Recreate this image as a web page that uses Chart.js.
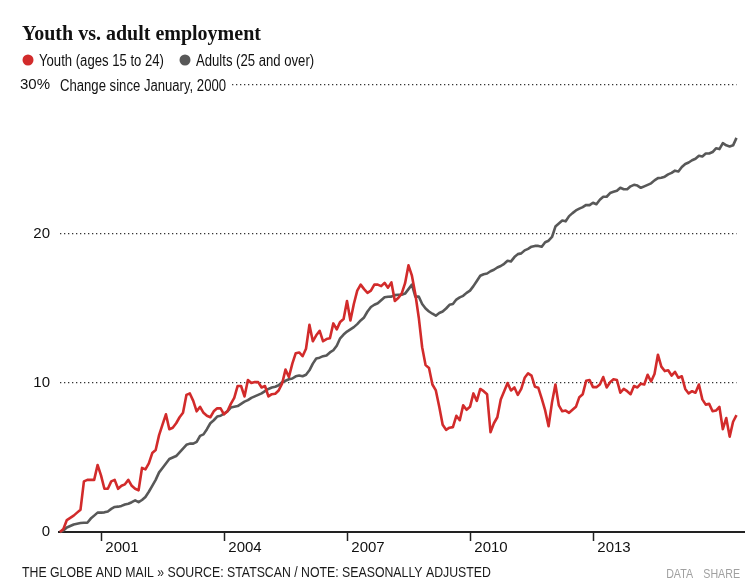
<!DOCTYPE html>
<html>
<head>
<meta charset="utf-8">
<script src="https://cdn.jsdelivr.net/npm/chart.js@4/dist/chart.umd.min.js"></script>
<style>
html,body{margin:0;padding:0;background:#fff;}
#wrap{width:750px;height:586px;position:relative;}
</style>
</head>
<body>
<div id="wrap"><canvas id="c" width="750" height="586"></canvas></div>
<script>
// ---- Data (percent change in employment since January 2000, monthly, Jan 2000 - Jul 2016) ----
const startYear = 2000;
const youth = [
  0, 0.2, 0.8, 0.95, 1.1, 1.3, 1.5, 3.4, 3.5, 3.5,
  3.5, 4.5, 3.8, 2.9, 2.9, 3.4, 3.5, 2.9, 3.1, 3.2,
  3.5, 3.1, 2.9, 2.8, 4.3, 4.2, 4.6, 5.3, 5.5, 6.5,
  7.2, 7.9, 6.9, 7.0, 7.3, 7.7, 8.0, 9.2, 9.3, 8.8,
  8.1, 8.4, 8.0, 7.8, 7.7, 8.1, 8.3, 8.3, 7.9, 8.1,
  8.6, 9.0, 9.8, 9.8, 9.1, 10.2, 10.0, 10.06, 10.06, 9.7,
  9.8, 9.1, 9.25, 9.28, 9.5, 9.95, 10.9, 10.4, 11.3, 12.0,
  12.05, 11.8, 12.3, 13.9, 12.8, 13.2, 13.5, 12.8, 12.95, 13.0,
  14.0, 13.6, 14.1, 14.3, 15.5, 14.2, 15.3, 16.2, 16.6, 16.3,
  16.05, 16.2, 16.6, 16.6, 16.5, 16.72, 16.4, 16.75, 15.5, 15.7,
  16.0, 16.7, 17.9, 17.2, 15.97, 14.4, 12.4, 11.2, 11.0, 9.9,
  9.5, 8.4, 7.2, 6.86, 7.0, 7.04, 7.8, 7.5, 8.5, 8.2,
  8.4, 9.3, 8.8, 9.6, 9.45, 9.25, 6.7, 7.3, 7.7, 8.9,
  9.45, 10.0, 9.5, 9.7, 9.2, 9.6, 10.35, 10.65, 10.5, 9.75,
  9.68, 8.95, 8.16, 7.1, 8.7, 9.9, 8.5, 8.1, 8.15, 8.0,
  8.2, 8.4, 9.05, 9.25, 10.15, 10.2, 9.72, 9.72, 9.9, 10.4,
  9.7, 10.05, 10.25, 10.2, 9.35, 9.6, 9.45, 9.25, 9.8, 9.7,
  9.95, 9.9, 10.55, 10.1, 10.6, 11.9, 11.1, 10.8, 10.85, 10.5,
  10.75, 10.35, 10.45, 9.6, 9.3, 9.45, 9.35, 9.9, 8.9, 8.55,
  8.6, 8.1, 8.15, 8.4, 6.9, 7.65, 6.4, 7.4, 7.85
];
const adults = [
  0, 0.1, 0.3, 0.4, 0.5, 0.55, 0.6, 0.62, 0.62, 0.9,
  1.1, 1.3, 1.3, 1.32, 1.38, 1.55, 1.68, 1.7, 1.75, 1.85,
  1.9, 2.0, 2.12, 2.0, 2.15, 2.35, 2.7, 3.1, 3.5, 4.0,
  4.3, 4.6, 4.9, 5.0, 5.1, 5.35, 5.6, 5.85, 5.93, 5.93,
  6.05, 6.45, 6.55, 6.9, 7.3, 7.5, 7.75, 7.8, 7.95, 8.1,
  8.35, 8.4, 8.45, 8.6, 8.75, 8.85, 9.0, 9.1, 9.2, 9.3,
  9.45, 9.6, 9.7, 9.75, 9.85, 10.05, 10.15, 10.25, 10.3, 10.45,
  10.5, 10.45, 10.55, 10.85, 11.3, 11.65, 11.7, 11.8, 11.85, 12.05,
  12.2, 12.5, 13.0, 13.25, 13.45, 13.6, 13.75, 13.95, 14.2, 14.4,
  14.8, 15.1, 15.25, 15.35, 15.55, 15.75, 15.79, 15.8, 15.9, 15.92,
  15.92, 16.0, 16.3, 16.6, 15.8, 15.8, 15.3, 15.0, 14.8, 14.65,
  14.52, 14.7, 14.8, 15.0, 15.25, 15.3, 15.6, 15.75, 15.85, 16.05,
  16.2, 16.5, 16.85, 17.2, 17.3, 17.35, 17.5, 17.6, 17.75, 17.85,
  18.0, 18.2, 18.16, 18.45, 18.65, 18.7, 18.9, 19.0, 19.15, 19.2,
  19.2, 19.15, 19.45, 19.55, 19.8, 20.5, 20.7, 20.9, 20.85, 21.2,
  21.4, 21.58, 21.7, 21.8, 21.95, 21.94, 22.1, 22.0, 22.3, 22.5,
  22.5, 22.75, 22.83, 22.9, 23.1, 23.0, 23.0, 23.2, 23.3, 23.25,
  23.1, 23.2, 23.3, 23.4, 23.6, 23.75, 23.78, 23.85, 24.0, 24.1,
  24.25, 24.2, 24.5, 24.7, 24.8, 24.95, 25.05, 25.25, 25.2, 25.4,
  25.4, 25.5, 25.75, 25.7, 26.1, 25.95, 25.88, 25.95, 26.45
];
const monthLabels = youth.map((_, i) =>
  (startYear + Math.floor(i / 12)) + '-' + String(i % 12 + 1).padStart(2, '0'));
const tickYears = [2001, 2004, 2007, 2010, 2013];
const yTickValues = [0, 10, 20, 30];
const seriesNames = ['Youth (ages 15 to 24)', 'Adults (25 and over)'];

const titleText = 'Youth vs. adult employment';
const headerText = 'Change since January, 2000';
const footerText = 'THE GLOBE AND MAIL \u00BB SOURCE: STATSCAN / NOTE: SEASONALLY ADJUSTED';

const RED = '#d22b2b';
const GRAY = '#585858';
const SANS = "'Liberation Sans', Arial, sans-serif";
const SQUEEZE = 0.82;

function narrowText(ctx, text, x, y, size, color, align) {
  ctx.save();
  ctx.translate(x, y);
  ctx.scale(SQUEEZE, 1);
  ctx.font = size + 'px ' + SANS;
  ctx.fillStyle = color;
  ctx.textAlign = align || 'left';
  ctx.fillText(text, 0, 0);
  const w = ctx.measureText(text).width * SQUEEZE;
  ctx.restore();
  return w;
}

const deco = {
  id: 'deco',
  beforeDatasetsDraw(chart) {
    const { ctx, chartArea } = chart;
    const y30 = chart.scales.y.getPixelForValue(30);
    const y0 = chart.scales.y.getPixelForValue(0);
    ctx.save();
    ctx.font = '16px ' + SANS;
    const w = ctx.measureText(headerText).width * SQUEEZE;
    ctx.fillStyle = '#fff';
    ctx.fillRect(chartArea.left - 4, y30 - 5, w + 10, 10);
    ctx.textBaseline = 'alphabetic';
    narrowText(ctx, headerText, chartArea.left, y30 + 6, 16, '#111', 'left');
    // x axis line
    ctx.strokeStyle = '#222';
    ctx.lineWidth = 2;
    ctx.beginPath();
    ctx.moveTo(chartArea.left - 2, y0);
    ctx.lineTo(745, y0);
    ctx.stroke();
    ctx.restore();
  },
  afterDraw(chart) {
    const { ctx } = chart;
    ctx.save();
    ctx.textAlign = 'left';
    ctx.textBaseline = 'alphabetic';
    // title
    ctx.fillStyle = '#111';
    ctx.font = 'bold 20px "Liberation Serif", "DejaVu Serif", serif';
    ctx.fillText(titleText, 22, 40);
    // legend
    const items = [
      { x: 28, color: RED, label: seriesNames[0] },
      { x: 185, color: GRAY, label: seriesNames[1] }
    ];
    items.forEach(it => {
      ctx.fillStyle = it.color;
      ctx.beginPath();
      ctx.arc(it.x, 60, 5.5, 0, Math.PI * 2);
      ctx.fill();
      narrowText(ctx, it.label, it.x + 11, 65.5, 16, '#111', 'left');
    });
    // footer
    narrowText(ctx, footerText, 22, 577, 15, '#1a1a1a', 'left');
    narrowText(ctx, 'SHARE', 740, 578, 13, '#a0a0a0', 'right');
    narrowText(ctx, 'DATA', 693, 578, 13, '#a0a0a0', 'right');
    ctx.restore();
  }
};

const ctx = document.getElementById('c').getContext('2d');
new Chart(ctx, {
  type: 'line',
  data: {
    labels: monthLabels,
    datasets: [
      {
        label: seriesNames[0],
        data: youth.map((v, i) => ({ x: i, y: v })),
        borderColor: RED,
        borderWidth: 2.6,
        pointRadius: 0,
        tension: 0,
        clip: false,
        borderJoinStyle: 'round'
      },
      {
        label: seriesNames[1],
        data: adults.map((v, i) => ({ x: i, y: v })),
        borderColor: GRAY,
        borderWidth: 2.6,
        pointRadius: 0,
        tension: 0,
        clip: false,
        borderJoinStyle: 'round'
      }
    ]
  },
  options: {
    responsive: false,
    animation: false,
    layout: { padding: { left: 0, top: 85, right: 13.5, bottom: 26 } },
    plugins: {
      legend: { display: false },
      title: { display: false },
      tooltip: { enabled: false }
    },
    scales: {
      x: {
        type: 'linear',
        min: 0,
        max: youth.length - 1,
        afterBuildTicks: s => { s.ticks = tickYears.map(y => ({ value: (y - startYear) * 12 })); },
        afterFit: s => { s.height = 28; },
        ticks: {
          callback: v => String(startYear + v / 12),
          labelOffset: 21,
          padding: -2,
          maxRotation: 0,
          autoSkip: false,
          font: { family: SANS, size: 15 },
          color: '#111'
        },
        grid: {
          display: true,
          drawOnChartArea: false,
          drawTicks: true,
          tickLength: 9,
          tickColor: '#222',
          tickWidth: 1.5
        },
        border: { display: false }
      },
      y: {
        min: 0,
        max: 30,
        afterBuildTicks: s => { s.ticks = yTickValues.map(v => ({ value: v })); },
        afterFit: s => { s.width = 60; },
        ticks: {
          callback: v => (v === 30 ? '30%' : String(v)),
          padding: 10,
          font: { family: SANS, size: 15 },
          color: '#111'
        },
        grid: {
          drawTicks: false,
          color: c => (c.tick && c.tick.value === 0 ? 'rgba(0,0,0,0)' : '#333'),
          lineWidth: 1.3
        },
        border: { display: false, dash: [1.3, 2.7] }
      }
    }
  },
  plugins: [deco]
});
</script>
</body>
</html>
